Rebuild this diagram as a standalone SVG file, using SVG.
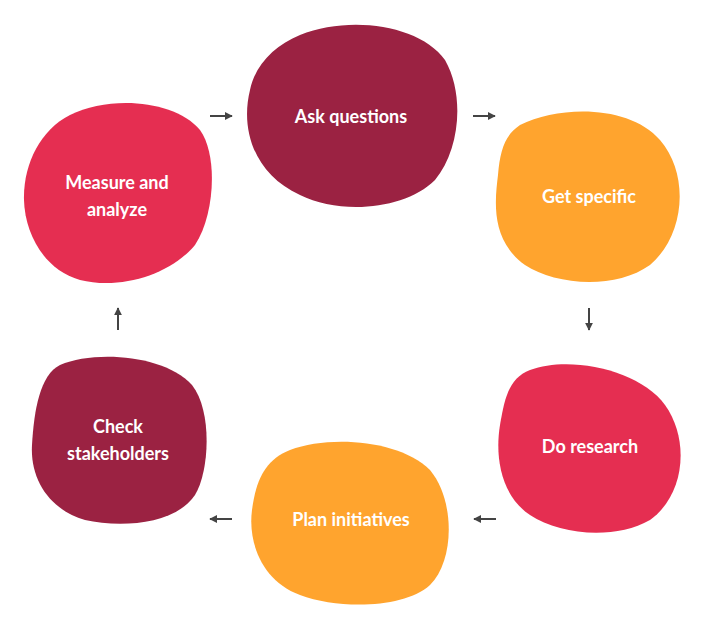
<svg xmlns="http://www.w3.org/2000/svg" width="708" height="625" viewBox="0 0 708 625">
<style>
.t{font-family:Lato,"Open Sans",sans-serif;font-weight:bold;font-size:18px;fill:#fff;text-anchor:middle}
.m{fill:#9B2242}.o{fill:#FFA42E}.p{fill:#E52E51}
.c line{stroke:#444;stroke-width:2;marker-end:url(#a)}
</style>
<defs><marker id="a" viewBox="0 0 10 10" refX="9" refY="5" markerWidth="4" markerHeight="4" orient="auto"><path d="M0,0L10,5L0,10z" fill="#444"/></marker></defs>
<g id="n1"><path class="m" d="M300,35C350,15 420,25 445,60C465,95 460,150 435,180C405,210 340,215 300,195C255,175 240,130 250,90C255,65 275,45 300,35z"/><text class="t" x="351" y="123">Ask questions</text></g>
<g id="n2"><path class="o" d="M520,125C560,105 630,105 660,140C690,175 685,235 650,265C615,290 555,285 525,265C490,240 495,200 498,175C500,150 505,135 520,125z"/><text class="t" x="589" y="203">Get specific</text></g>
<g id="n3"><path class="p" d="M530,370C570,355 640,370 665,405C690,440 685,495 650,520C615,540 560,535 530,515C500,495 495,455 500,425C505,395 510,378 530,370z"/><text class="t" x="590" y="453">Do research</text></g>
<g id="n4"><path class="o" d="M290,450C330,435 400,440 430,470C455,500 455,560 430,585C405,608 340,610 300,595C260,580 248,540 252,510C256,480 265,460 290,450z"/><text class="t" x="351" y="526">Plan initiatives</text></g>
<g id="n5"><path class="m" d="M60,365C95,350 165,355 192,385C212,410 210,470 195,495C175,525 120,528 85,520C50,510 30,480 32,445C34,410 40,375 60,365z"/><text class="t" x="118" y="433">Check</text><text class="t" x="118" y="460">stakeholders</text></g>
<g id="n6"><path class="p" d="M70,115C110,95 175,100 200,130C218,155 215,215 195,245C170,275 120,290 80,280C45,270 25,235 24,200C23,165 40,130 70,115z"/><text class="t" x="117" y="189">Measure and</text><text class="t" x="117" y="216">analyze</text></g>
<g class="c"><line x1="210" y1="116" x2="232" y2="116"/><line x1="473" y1="116" x2="495" y2="116"/><line x1="589" y1="308" x2="589" y2="330"/><line x1="496" y1="519" x2="474" y2="519"/><line x1="232" y1="519" x2="210" y2="519"/><line x1="118" y1="330" x2="118" y2="308"/></g>
</svg>
